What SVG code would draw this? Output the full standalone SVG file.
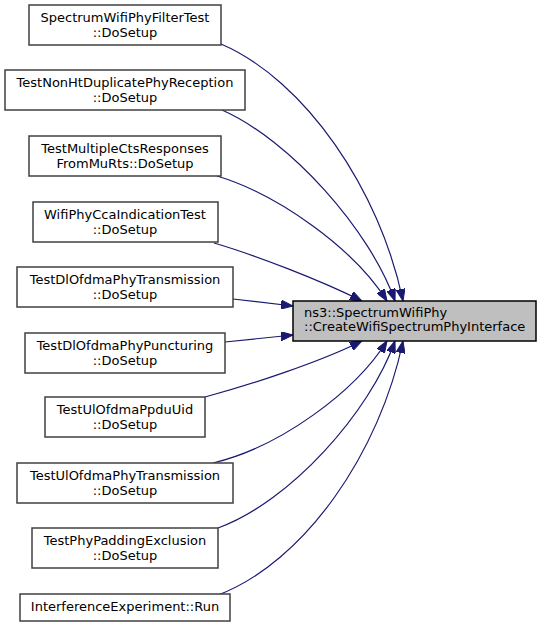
<svg xmlns="http://www.w3.org/2000/svg" width="541" height="626" viewBox="0 0 541 626">
<style>
.box{fill:#ffffff;stroke:#404040;stroke-width:1.5}
.tgt{fill:#bfbfbf;stroke:#000000;stroke-width:1.5}
text{font-family:"DejaVu Sans",sans-serif;font-size:13px;fill:#000000}
.c{text-anchor:middle}
.e{fill:none;stroke:#191970;stroke-width:1.2}
</style>
<defs>
<marker id="ah" markerUnits="userSpaceOnUse" viewBox="0 0 12 9" refX="12" refY="4.5" markerWidth="12" markerHeight="9" orient="auto">
<path d="M0,0 L12,4.5 L0,9 Z" fill="#191970" stroke="#191970" stroke-width="1"/>
</marker>
</defs>
<rect width="541" height="626" fill="#ffffff"/>
<g id="edges">
<path class="e" marker-end="url(#ah)" d="M221,44 C305,80 380,190 403,301"/>
<path class="e" marker-end="url(#ah)" d="M222,110 C290,140 370,230 395,301"/>
<path class="e" marker-end="url(#ah)" d="M217,176 C280,195 355,250 387,301"/>
<path class="e" marker-end="url(#ah)" d="M214,243 C255,255 320,280 362,301"/>
<path class="e" marker-end="url(#ah)" d="M233,299 L293,306"/>
<path class="e" marker-end="url(#ah)" d="M225,342 L293,335"/>
<path class="e" marker-end="url(#ah)" d="M205,397 C250,385 320,362 362,341"/>
<path class="e" marker-end="url(#ah)" d="M213,463 C280,447 355,392 387,341"/>
<path class="e" marker-end="url(#ah)" d="M218,528 C290,502 370,412 395,341"/>
<path class="e" marker-end="url(#ah)" d="M218,595 C305,562 380,452 403,341"/>
</g>
<g id="target">
<rect class="tgt" x="293" y="301" width="243" height="40"/>
<text x="304" y="317">ns3::SpectrumWifiPhy</text>
<text x="304" y="331">::CreateWifiSpectrumPhyInterface</text>
</g>
<g id="n1">
<rect class="box" x="29" y="5" width="192" height="40"/>
<text class="c" x="125" y="22">SpectrumWifiPhyFilterTest</text>
<text class="c" x="125" y="37">::DoSetup</text>
</g>
<g id="n2">
<rect class="box" x="5" y="70" width="240" height="40"/>
<text class="c" x="125" y="87">TestNonHtDuplicatePhyReception</text>
<text class="c" x="125" y="102">::DoSetup</text>
</g>
<g id="n3">
<rect class="box" x="29" y="136" width="192" height="40"/>
<text class="c" x="125" y="153">TestMultipleCtsResponses</text>
<text class="c" x="125" y="168">FromMuRts::DoSetup</text>
</g>
<g id="n4">
<rect class="box" x="33" y="202" width="185" height="40"/>
<text class="c" x="125" y="219">WifiPhyCcaIndicationTest</text>
<text class="c" x="125" y="234">::DoSetup</text>
</g>
<g id="n5">
<rect class="box" x="17" y="267" width="216" height="40"/>
<text class="c" x="125" y="284">TestDlOfdmaPhyTransmission</text>
<text class="c" x="125" y="299">::DoSetup</text>
</g>
<g id="n6">
<rect class="box" x="25" y="333" width="200" height="40"/>
<text class="c" x="125" y="350">TestDlOfdmaPhyPuncturing</text>
<text class="c" x="125" y="365">::DoSetup</text>
</g>
<g id="n7">
<rect class="box" x="45" y="397" width="160" height="40"/>
<text class="c" x="125" y="414">TestUlOfdmaPpduUid</text>
<text class="c" x="125" y="429">::DoSetup</text>
</g>
<g id="n8">
<rect class="box" x="17" y="463" width="216" height="40"/>
<text class="c" x="125" y="480">TestUlOfdmaPhyTransmission</text>
<text class="c" x="125" y="495">::DoSetup</text>
</g>
<g id="n9">
<rect class="box" x="32" y="528" width="186" height="40"/>
<text class="c" x="125" y="545">TestPhyPaddingExclusion</text>
<text class="c" x="125" y="560">::DoSetup</text>
</g>
<g id="n10">
<rect class="box" x="20" y="594" width="210" height="27"/>
<text class="c" x="125" y="611">InterferenceExperiment::Run</text>
</g>
</svg>
